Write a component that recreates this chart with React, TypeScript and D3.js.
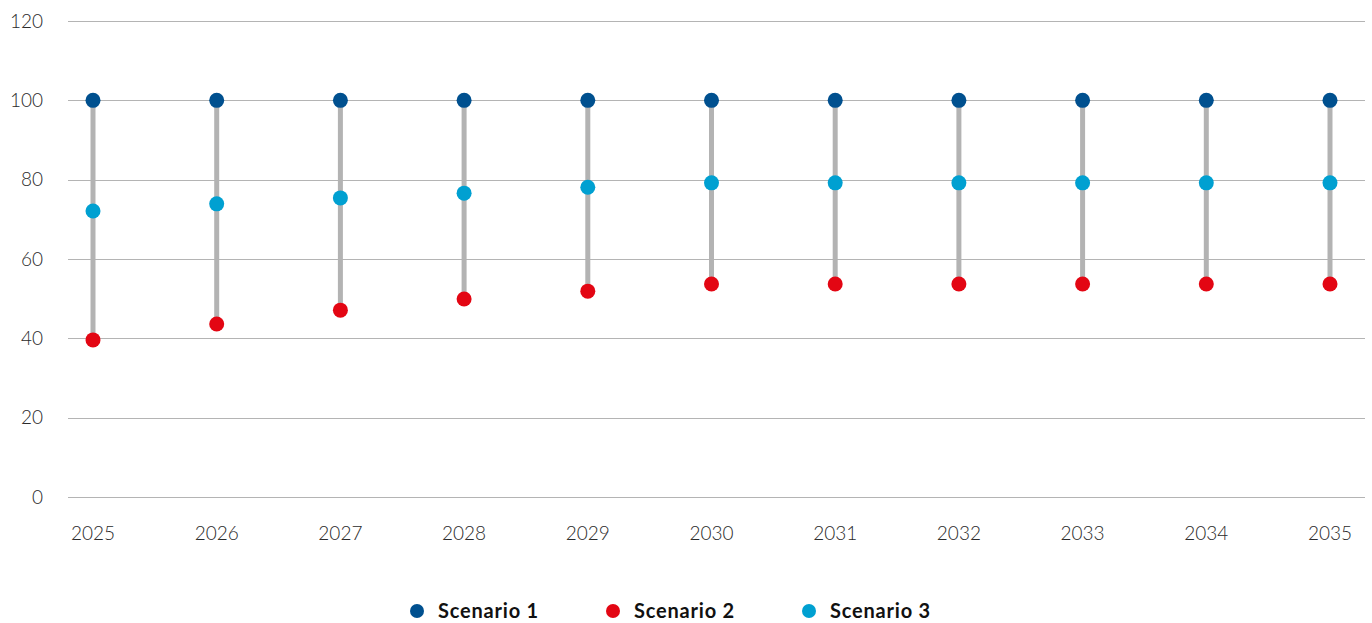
import React, { useEffect, useRef } from 'react';
import * as d3 from 'd3';

const years = ['2025', '2026', '2027', '2028', '2029', '2030', '2031', '2032', '2033', '2034', '2035'];
const scenario1 = [100, 100, 100, 100, 100, 100, 100, 100, 100, 100, 100];
const scenario2 = [39.6, 43.6, 47.1, 49.9, 51.9, 53.7, 53.7, 53.7, 53.7, 53.7, 53.7];
const scenario3 = [72.1, 73.9, 75.4, 76.6, 78.1, 79.2, 79.2, 79.2, 79.2, 79.2, 79.2];
const yTicks = [0, 20, 40, 60, 80, 100, 120];
const seriesNames = ['Scenario 1', 'Scenario 2', 'Scenario 3'];
const colors = ['#00508f', '#e30613', '#00a0d1'];

const W = 1372;
const H = 623;

export default function App() {
  const svgRef = useRef<SVGSVGElement>(null);

  useEffect(() => {
    if (!svgRef.current) return;
    const svg = d3.select(svgRef.current);
    svg.selectAll('*').remove();

    const font = 'Lato, "Open Sans", sans-serif';
    const x = d3.scalePoint<string>().domain(years).range([93, 1330]);
    const y = d3.scaleLinear().domain([0, 120]).range([497, 21]);

    // grid lines
    svg.append('g')
      .selectAll('line')
      .data(yTicks)
      .enter().append('line')
      .attr('x1', 68)
      .attr('x2', 1365)
      .attr('y1', d => Math.round(y(d)) + 0.5)
      .attr('y2', d => Math.round(y(d)) + 0.5)
      .attr('stroke', '#b4b4b4')
      .attr('stroke-width', 1);

    // y labels
    svg.append('g')
      .selectAll('text')
      .data(yTicks)
      .enter().append('text')
      .attr('x', 43)
      .attr('y', d => y(d))
      .attr('dy', '0.35em')
      .attr('text-anchor', 'end')
      .style('font-family', font)
      .style('font-weight', 300)
      .style('font-size', '19px')
      .style('fill', '#2a2a2a')
      .text(d => d);

    // x labels
    svg.append('g')
      .selectAll('text')
      .data(years)
      .enter().append('text')
      .attr('x', d => x(d)!)
      .attr('y', 533)
      .attr('dy', '0.35em')
      .attr('text-anchor', 'middle')
      .style('font-family', font)
      .style('font-weight', 300)
      .style('font-size', '19px')
      .style('fill', '#2a2a2a')
      .text(d => d);

    // range bars
    svg.append('g')
      .selectAll('line')
      .data(years)
      .enter().append('line')
      .attr('x1', d => x(d)!)
      .attr('x2', d => x(d)!)
      .attr('y1', (d, i) => y(Math.max(scenario1[i], scenario2[i], scenario3[i])))
      .attr('y2', (d, i) => y(Math.min(scenario1[i], scenario2[i], scenario3[i])))
      .attr('stroke', '#b3b3b3')
      .attr('stroke-width', 5);

    // dots
    [scenario1, scenario2, scenario3].forEach((vals, si) => {
      svg.append('g')
        .selectAll('circle')
        .data(vals)
        .enter().append('circle')
        .attr('cx', (d, i) => x(years[i])!)
        .attr('cy', d => y(d))
        .attr('r', 7.5)
        .attr('fill', colors[si]);
    });

    // legend
    const legendX = [417, 613, 809];
    seriesNames.forEach((name, i) => {
      const g = svg.append('g').attr('transform', `translate(${legendX[i]},611)`);
      g.append('circle').attr('r', 7).attr('fill', colors[i]);
      g.append('text')
        .attr('x', 21)
        .attr('dy', '0.35em')
        .style('font-family', font)
        .style('font-weight', 700)
        .style('font-size', '20px')
        .style('letter-spacing', '0.8px')
        .style('fill', '#111')
        .text(name);
    });
  }, []);

  return (
    <svg
      ref={svgRef}
      width={W}
      height={H}
      style={{ position: 'absolute', left: 0, top: 0, display: 'block', background: '#fff' }}
    />
  );
}
